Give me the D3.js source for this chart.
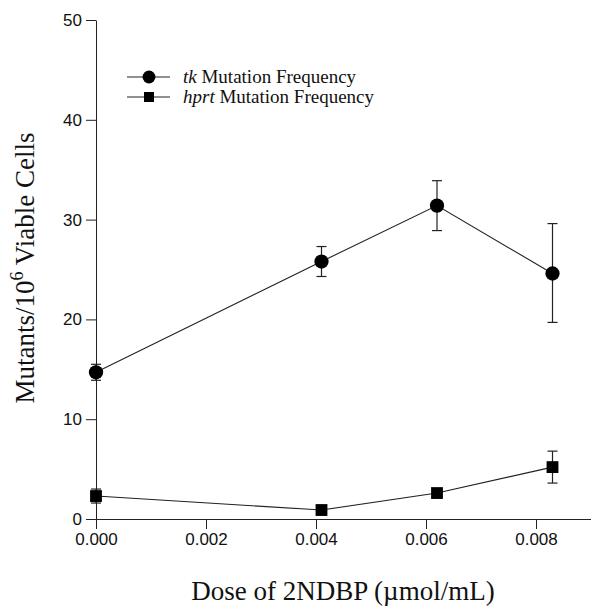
<!DOCTYPE html>
<html>
<head>
<meta charset="utf-8">
<script src="https://cdn.jsdelivr.net/npm/d3@7"></script>
<style>
  body { margin: 0; background: #fff; }
  #chart svg { display: block; }
</style>
</head>
<body>
<div id="chart"></div>
<script>
// doses (umol/mL)
const doses = [0, 0.0041, 0.0062, 0.0083];
// tk mutation frequency, mean and error bar ends
const tkMean = [14.7, 25.8, 31.4, 24.6];
const tkHigh = [15.5, 27.3, 33.9, 29.6];
const tkLow = [13.9, 24.3, 28.9, 19.7];
// hprt mutation frequency
const hprtMean = [2.3, 0.9, 2.6, 5.2];
const hprtHigh = [3.0, 0.9, 2.6, 6.8];
const hprtLow = [1.6, 0.9, 2.6, 3.6];
// ticks
const xTicks = [0, 0.002, 0.004, 0.006, 0.008];
const yTicks = [0, 10, 20, 30, 40, 50];

const width = 591;
const height = 608;
const serif = '"Liberation Serif", "Times New Roman", serif';
const sans = '"Liberation Sans", Arial, sans-serif';

const svg = d3
  .select('#chart')
  .append('svg')
  .attr('width', width)
  .attr('height', height);

// set the ranges
const x = d3.scaleLinear().domain([0, 0.009]).range([96, 591]);
const y = d3.scaleLinear().domain([0, 50]).range([519, 20]);

// axes
svg
  .append('g')
  .attr('transform', `translate(0,${y(0)})`)
  .call(
    d3
      .axisBottom(x)
      .tickValues(xTicks)
      .tickFormat(d3.format('.3f'))
      .tickSize(10)
      .tickSizeOuter(0),
  )
  .call(g => g.select('.domain').attr('stroke', '#222'))
  .call(g => g.selectAll('.tick line').attr('stroke', '#222'))
  .call(g =>
    g
      .selectAll('text')
      .attr('font-family', sans)
      .attr('font-size', 17)
      .attr('fill', '#111')
      .attr('y', 14),
  );

svg
  .append('g')
  .attr('transform', `translate(${x(0)},0)`)
  .call(
    d3
      .axisLeft(y)
      .tickValues(yTicks)
      .tickSize(10)
      .tickSizeOuter(0),
  )
  .call(g => g.select('.domain').attr('stroke', '#222'))
  .call(g => g.selectAll('.tick line').attr('stroke', '#222'))
  .call(g =>
    g
      .selectAll('text')
      .attr('font-family', sans)
      .attr('font-size', 17)
      .attr('fill', '#111')
      .attr('x', -14),
  );

// draw one series with error bars
function drawSeries(mean, low, high, shape) {
  const data = doses.map((d, i) => ({ dose: d, m: mean[i], lo: low[i], hi: high[i] }));
  const line = d3
    .line()
    .x(d => x(d.dose))
    .y(d => y(d.m));

  svg
    .append('path')
    .datum(data)
    .attr('fill', 'none')
    .attr('stroke', '#222')
    .attr('stroke-width', 1.1)
    .attr('d', line);

  const err = svg.append('g').attr('stroke', '#222').attr('stroke-width', 1.2);
  data.filter(d => d.hi - d.lo > 0.05).forEach(d => {
    err
      .append('line')
      .attr('x1', x(d.dose))
      .attr('x2', x(d.dose))
      .attr('y1', y(d.lo))
      .attr('y2', y(d.hi));
    [d.lo, d.hi].forEach(v => {
      err
        .append('line')
        .attr('x1', x(d.dose) - 5)
        .attr('x2', x(d.dose) + 5)
        .attr('y1', y(v))
        .attr('y2', y(v));
    });
  });

  const sym = d3.symbol().type(shape === 'circle' ? d3.symbolCircle : d3.symbolSquare)
    .size(shape === 'circle' ? 160 : 140);
  svg
    .append('g')
    .selectAll('path')
    .data(data)
    .join('path')
    .attr('transform', d => `translate(${x(d.dose)},${y(d.m)})`)
    .attr('d', sym)
    .attr('fill', '#000');
}

drawSeries(tkMean, tkLow, tkHigh, 'circle');
drawSeries(hprtMean, hprtLow, hprtHigh, 'square');

// legend
const legendItems = [
  { gene: 'tk', shape: d3.symbolCircle, size: 130 },
  { gene: 'hprt', shape: d3.symbolSquare, size: 100 },
];
const legend = svg.append('g').attr('transform', 'translate(127,77)');
legendItems.forEach((item, i) => {
  const g = legend.append('g').attr('transform', `translate(0,${i * 20})`);
  g.append('line').attr('x1', 0).attr('x2', 43).attr('stroke', '#222').attr('stroke-width', 1.2);
  g.append('path')
    .attr('transform', 'translate(22,0)')
    .attr('d', d3.symbol().type(item.shape).size(item.size))
    .attr('fill', '#000');
  const t = g
    .append('text')
    .attr('x', 56)
    .attr('y', 6)
    .attr('font-family', serif)
    .attr('font-size', 19)
    .attr('fill', '#111');
  t.append('tspan').attr('font-style', 'italic').text(item.gene);
  t.append('tspan').text(' Mutation Frequency');
});

// axis titles
svg
  .append('text')
  .attr('x', 343)
  .attr('y', 600)
  .attr('text-anchor', 'middle')
  .attr('font-family', serif)
  .attr('font-size', 27)
  .attr('fill', '#111')
  .text('Dose of 2NDBP (\u00b5mol/mL)');

const ylab = svg
  .append('text')
  .attr('transform', 'translate(34,268) rotate(-90)')
  .attr('text-anchor', 'middle')
  .attr('font-family', serif)
  .attr('font-size', 27)
  .attr('fill', '#111');
ylab.append('tspan').text('Mutants/10');
ylab.append('tspan').attr('font-size', 18).attr('dy', -11).text('6');
ylab.append('tspan').attr('dy', 11).text(' Viable Cells');
</script>
</body>
</html>
